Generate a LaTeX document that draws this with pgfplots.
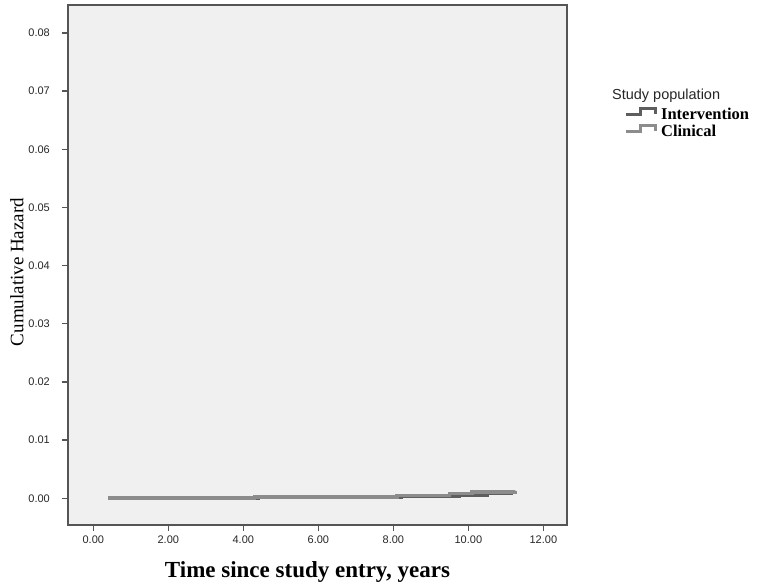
\documentclass[border=0pt]{standalone}
\usepackage{pgfplots}
\pgfplotsset{compat=1.18}
\usepackage{fontspec}
\setmainfont{Liberation Serif}
\newfontfamily\arial{Liberation Sans}
\definecolor{bg}{HTML}{F0F0F0}
\definecolor{axc}{HTML}{555555}
\definecolor{interv}{HTML}{5E5E5E}
\definecolor{clin}{HTML}{8C8C8C}
\begin{document}
\begin{tikzpicture}
\useasboundingbox (0pt,0pt) rectangle (767pt,585pt);
\begin{axis}[
  at={(68pt,60pt)}, anchor=south west,
  scale only axis, width=499pt, height=520pt,
  xmin=-0.675, xmax=12.63,
  ymin=-0.0046, ymax=0.0848,
  axis background/.style={fill=bg},
  axis line style={draw=axc, line width=1.8pt},
  tick style={draw=axc, line width=1.4pt},
  tick align=outside, major tick length=6pt,
  xtick={0,2,4,6,8,10,12},
  ytick={0,0.01,0.02,0.03,0.04,0.05,0.06,0.07,0.08},
  xtick pos=bottom, ytick pos=left,
  xticklabel style={font=\arial\fontsize{11}{12}\selectfont, inner sep=0pt, yshift=-5pt, text=black!85},
  yticklabel style={font=\arial\fontsize{11}{12}\selectfont, inner sep=0pt, xshift=-12pt, text=black!85},
  xticklabel={\pgfmathprintnumber[fixed, fixed zerofill, precision=2]{\tick}},
  yticklabel={\pgfmathprintnumber[fixed, fixed zerofill, precision=2]{\tick}},
  scaled y ticks=false,
  /pgf/number format/assume math mode=true,
  xlabel={Time since study entry, years},
  xlabel style={font=\bfseries\fontsize{23}{26}\selectfont, at={(rel axis cs:0.48,0)}, anchor=base, yshift=-53pt, inner sep=0pt},
  ylabel={Cumulative Hazard},
  ylabel style={font=\fontsize{19}{22}\selectfont, at={(rel axis cs:0,0.4865)}, anchor=center, yshift=51pt, inner sep=0pt},
  legend cell align=left,
  legend style={at={(rel axis cs:1.108,0.808)}, anchor=north west, draw=none, fill=none,
    font=\bfseries\fontsize{16.5}{17}\selectfont,
    nodes={inner sep=0pt, text height=11pt, text depth=0pt},
    row sep=5pt, column sep=4pt},
  legend image code/.code={\draw[#1, line width=3pt] (-2pt,-1pt) -- (13pt,-1pt) -- (13pt,5pt) -- (28pt,5pt) -- (28pt,0pt);},
  clip=false,
]
\addplot[interv, line width=3.5pt, const plot] coordinates {
  (0.4,0) (4.4,0.00015) (8.2,0.0004) (9.75,0.0006) (10.5,0.0009) (11.2,0.0009)
};
\addlegendentry{Intervention}
\addplot[clin, line width=3.5pt, const plot] coordinates {
  (0.4,0) (4.3,0.0002) (8.1,0.0005) (9.5,0.0008) (10.1,0.0011) (11.25,0.0012)
};
\addlegendentry{Clinical}
\node[anchor=base west, font=\arial\fontsize{14.5}{16}\selectfont, inner sep=0pt, text=black!85] at (rel axis cs:1.09,0.819) {Study population};
\end{axis}
\end{tikzpicture}
\end{document}
